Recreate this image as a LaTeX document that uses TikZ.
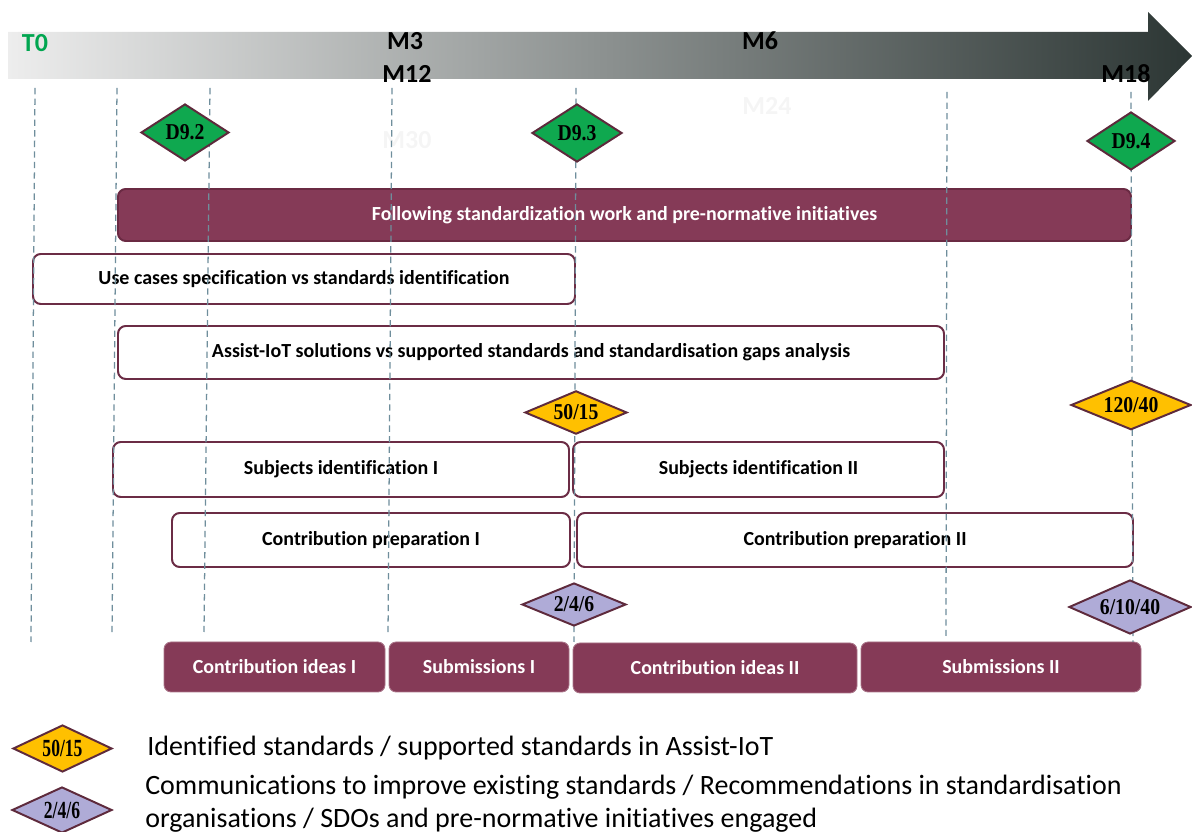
\documentclass[tikz,border=0pt]{standalone}
\usepackage{fontspec}
\setmainfont{Carlito}[Ligatures=NoCommon]
\newfontfamily\tms{Liberation Serif}
\usetikzlibrary{shapes.geometric}
\definecolor{maroon}{HTML}{853A57}
\definecolor{maroonD}{HTML}{6A2A43}
\definecolor{bord}{HTML}{6B2C45}
\definecolor{dbord}{HTML}{5E2A3C}
\definecolor{dgreen}{HTML}{0FA84F}
\definecolor{tgreen}{HTML}{00A650}
\definecolor{dyellow}{HTML}{FFC000}
\definecolor{dpurple}{HTML}{AFABD7}
\definecolor{dash}{HTML}{6F8E9C}
\definecolor{arrL}{HTML}{EDEDED}
\definecolor{arrM}{HTML}{A6A6A6}
\definecolor{arrR}{HTML}{2C3634}
\newcommand\tbox[7]{\node[#1, minimum width={(#4-#3)*0.025cm}, minimum height={(#6-#5)*0.025cm}] (#2) at ({(#3+#4)/2},{(#5+#6)/2}) {#7};}
\newcommand\dtext[1]{\scalebox{1}[1.15]{#1}}
\tikzset{
  boxtext/.style={font=\bfseries\fontsize{14.2}{16}\selectfont, inner sep=0pt},
  wbox/.style={boxtext, draw=bord, line width=1.4pt, fill=white, rounded corners=5.5pt},
  mbox/.style={boxtext, draw=maroonD, line width=1.4pt, fill=maroon, text=white, rounded corners=5.5pt},
  lbox/.style={boxtext, draw=maroon!70!white, line width=0.6pt, fill=maroon, text=white, rounded corners=5pt},
  guide/.style={draw=dash, line width=0.9pt, dash pattern=on 4.5pt off 3pt},
  mlab/.style={font=\bfseries\fontsize{18.5}{20}\selectfont, inner sep=0pt},
  dmd/.style={diamond, draw=dbord, line width=1.4pt, inner sep=0pt, aspect=1.6,
     font=\tms\bfseries\fontsize{14}{14}\selectfont},
  legtext/.style={font=\fontsize{19.9}{22}\selectfont, inner sep=0pt, anchor=west}
}
\begin{document}
\begin{tikzpicture}[x=0.025cm,y=-0.025cm]
\useasboundingbox (0,0) rectangle (1192,832);
% timeline arrow
\shade[left color=arrL, middle color=arrM, right color=arrR]
  (8,32) -- (1148,32) -- (1148,12) -- (1192,56) -- (1148,101) -- (1148,79) -- (8,79) -- cycle;
\node[mlab, text=tgreen] (t0) at (35,43) {T0};
\node[mlab] (m3) at (405,41) {M3};
\node[mlab] (m12) at (407,74) {M12};
\node[mlab] (m6) at (760,41) {M6};
\node[mlab] (m18) at (1126,74) {M18};
\node[mlab, text=black!4] (m30) at (407,140) {M30};
\node[mlab, text=black!4] (m24) at (767,106) {M24};
% boxes
\tbox{mbox}{follow}{118}{1131}{189}{241}{Following standardization work and pre-normative initiatives}
\tbox{wbox}{usecases}{33}{575}{254}{304}{Use cases specification vs standards identification}
\tbox{wbox}{assist}{118}{944}{326}{379}{Assist-IoT solutions vs supported standards and standardisation gaps analysis}
\tbox{wbox}{subj1}{113}{569}{442}{497}{Subjects identification I}
\tbox{wbox}{subj2}{573}{944}{442}{497}{Subjects identification II}
\tbox{wbox}{prep1}{172}{570}{513}{567}{Contribution preparation I}
\tbox{wbox}{prep2}{577}{1133}{513}{567}{Contribution preparation II}
\tbox{lbox}{ideas1}{164}{385}{642}{692}{Contribution ideas I}
\tbox{lbox}{sub1}{389}{569}{642}{692}{Submissions I}
\tbox{lbox}{ideas2}{573}{857}{643}{693}{Contribution ideas II}
\tbox{lbox}{sub2}{861}{1141}{642}{692}{Submissions II}
% guide lines
\coordinate (g1a) at (35,88);   \coordinate (g1b) at (31,642);
\coordinate (g2a) at (117,88);  \coordinate (g2b) at (112,636);
\coordinate (g3a) at (210,88);  \coordinate (g3b) at (204,632);
\coordinate (g4a) at (392,88);  \coordinate (g4b) at (388,636);
\coordinate (g5a) at (576,88);  \coordinate (g5b) at (574,642);
\coordinate (g6a) at (947,92);  \coordinate (g6b) at (946,636);
\coordinate (g7a) at (1131,92); \coordinate (g7b) at (1133,642);
\foreach \i in {1,...,7} {\draw[guide] (g\i a) -- (g\i b);}
% diamonds
\tbox{dmd, fill=dgreen}{d92}{141}{229}{104}{161}{\dtext{D9.2}}
\tbox{dmd, fill=dgreen}{d93}{532}{622}{104}{162}{\dtext{D9.3}}
\tbox{dmd, fill=dgreen}{d94}{1087}{1175}{112}{170}{\dtext{D9.4}}
\tbox{dmd, fill=dyellow}{y1}{525}{627}{393}{432}{\dtext{50/15}}
\tbox{dmd, fill=dyellow}{y2}{1071}{1191}{382}{428}{\dtext{120/40}}
\tbox{dmd, fill=dpurple}{p1}{522}{626}{583}{626}{\dtext{2/4/6}}
\tbox{dmd, fill=dpurple}{p2}{1069}{1191}{580}{634}{\dtext{6/10/40}}
% legend
\tbox{dmd, fill=dyellow, font=\tms\bfseries\fontsize{12.5}{13}\selectfont}{ly}{13}{112}{725}{772}{\scalebox{1}[1.4]{50/15}}
\tbox{dmd, fill=dpurple, font=\tms\bfseries\fontsize{12.5}{13}\selectfont}{lp}{12}{112}{787}{833}{\scalebox{1}[1.4]{2/4/6}}
\node[legtext] (l1) at (147,748) {Identified standards / supported standards in Assist-IoT};
\node[legtext] (l2) at (145,787) {Communications to improve existing standards / Recommendations in standardisation};
\node[legtext] (l3) at (145,820) {organisations / SDOs and pre-normative initiatives engaged};
\end{tikzpicture}
\end{document}
